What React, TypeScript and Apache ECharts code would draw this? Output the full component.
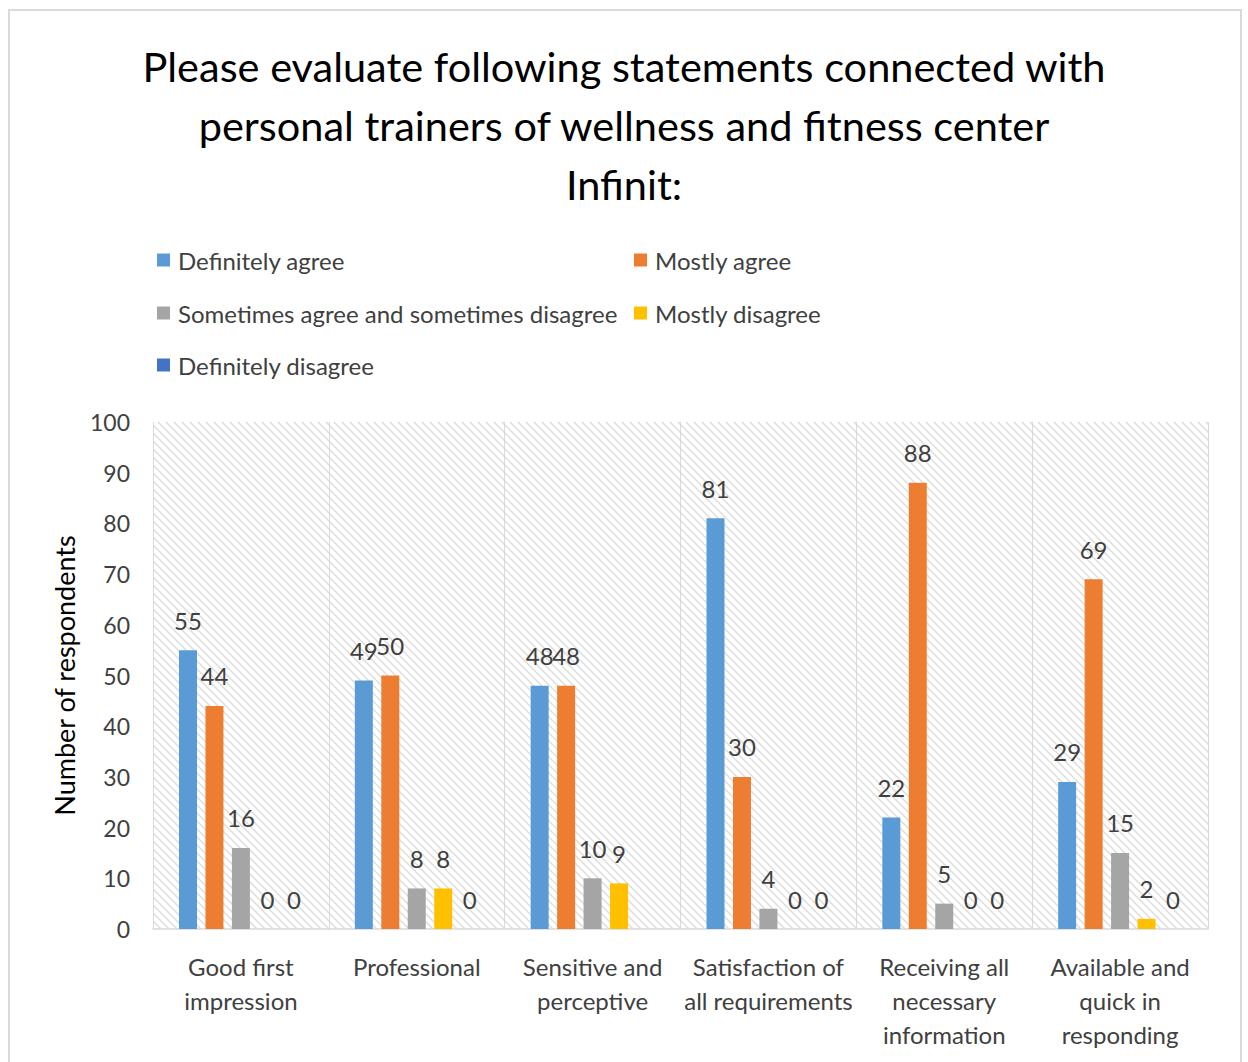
import React, { useEffect, useRef } from "react";
import * as echarts from "echarts";

const categories = [
  "Good first\nimpression",
  "Professional",
  "Sensitive and\nperceptive",
  "Satisfaction of\nall requirements",
  "Receiving all\nnecessary\ninformation",
  "Available and\nquick in\nresponding",
];
const seriesNames = [
  "Definitely agree",
  "Mostly agree",
  "Sometimes agree and sometimes disagree",
  "Mostly disagree",
  "Definitely disagree",
];
const definitelyAgree = [55, 49, 48, 81, 22, 29];
const mostlyAgree = [44, 50, 48, 30, 88, 69];
const sometimes = [16, 8, 10, 4, 5, 15];
const mostlyDisagree = [0, 8, 9, 0, 0, 2];
const definitelyDisagree = [0, 0, null, 0, 0, 0];
const seriesValues = [definitelyAgree, mostlyAgree, sometimes, mostlyDisagree, definitelyDisagree];
const colors = ["#5B9BD5", "#ED7D31", "#A5A5A5", "#FFC000", "#4472C4"];
const yTicks = { min: 0, max: 100, interval: 10 };

const FONT = "Lato";

export default function App() {
  const ref = useRef<HTMLDivElement>(null);
  useEffect(() => {
    if (!ref.current) return;
    const chart = echarts.init(ref.current, null, { renderer: "svg" });
    const c = document.createElement("canvas");
    c.width = 8;
    c.height = 8;
    const ctx = c.getContext("2d")!;
    ctx.fillStyle = "#ffffff";
    ctx.fillRect(0, 0, 8, 8);
    ctx.strokeStyle = "#dcdcdc";
    ctx.lineWidth = 1.4;
    ctx.beginPath();
    ctx.moveTo(-1, -1);
    ctx.lineTo(9, 9);
    ctx.moveTo(-1, 7);
    ctx.lineTo(1, 9);
    ctx.moveTo(7, -1);
    ctx.lineTo(9, 1);
    ctx.stroke();

    const legendPos = [
      { left: 157, top: 248 },
      { left: 634, top: 248 },
      { left: 157, top: 301 },
      { left: 634, top: 301 },
      { left: 157, top: 353 },
    ];

    chart.setOption({
      animation: false,
      textStyle: { fontFamily: FONT },
      title: {
        text: "Please evaluate following statements connected with\npersonal trainers of wellness and fitness center\nInfinit:",
        left: "center",
        top: 31,
        textStyle: { fontFamily: FONT, fontSize: 41.5, fontWeight: "normal", color: "#000000", lineHeight: 59 },
      },
      graphic: [
        {
          type: "rect",
          shape: { x: 9, y: 10, width: 1232, height: 1100 },
          style: { fill: "none", stroke: "#d9d9d9", lineWidth: 2 },
          silent: true,
        },
      ],
      legend: seriesNames.map((n, i) => ({
        data: [n],
        left: legendPos[i].left,
        top: legendPos[i].top,
        icon: "rect",
        itemWidth: 13,
        itemHeight: 13,
        padding: 0,
        textStyle: { fontFamily: FONT, fontSize: 24, color: "#404040", padding: [0, 0, 0, 3] },
        selectedMode: false,
      })),
      grid: {
        left: 153,
        right: 40,
        top: 422,
        bottom: 133,
        show: true,
        borderWidth: 0,
        backgroundColor: { image: c, repeat: "repeat", imageWidth: 8, imageHeight: 8 },
      },
      xAxis: {
        type: "category",
        data: categories,
        axisLine: { lineStyle: { color: "#d9d9d9", width: 1.5 } },
        axisTick: { show: false },
        splitLine: { show: true, lineStyle: { color: "#d9d9d9", width: 1 } },
        axisLabel: { fontFamily: FONT, fontSize: 24, color: "#404040", lineHeight: 34, margin: 20, interval: 0 },
      },
      yAxis: {
        type: "value",
        min: yTicks.min,
        max: yTicks.max,
        interval: yTicks.interval,
        name: "Number of respondents",
        nameLocation: "middle",
        nameGap: 75,
        nameTextStyle: { fontFamily: FONT, fontSize: 27, color: "#000000" },
        axisLine: { show: false },
        axisTick: { show: false },
        splitLine: { show: false },
        axisLabel: { fontFamily: FONT, fontSize: 23, color: "#404040", margin: 23 },
      },
      series: seriesNames.map((n, i) => ({
        name: n,
        type: "bar",
        data: seriesValues[i],
        barWidth: 18,
        barGap: "47%",
        itemStyle: { color: colors[i] },
        label: {
          show: true,
          position: "top",
          distance: 18,
          fontFamily: FONT,
          fontSize: 24,
          color: "#404040",
        },
      })),
    });
    return () => chart.dispose();
  }, []);
  return (
    <div
      ref={ref}
      style={{ position: "fixed", left: 0, top: 0, width: 1248, height: 1062, background: "#ffffff" }}
    />
  );
}
